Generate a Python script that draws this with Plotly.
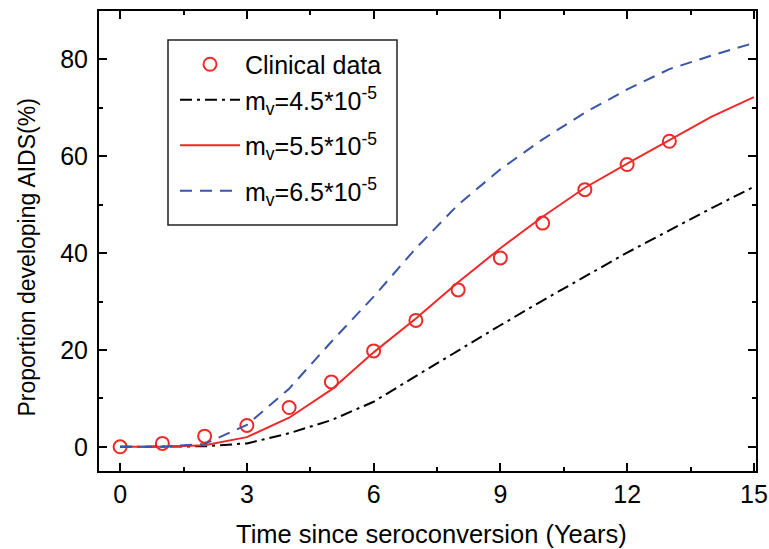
import plotly.graph_objects as go

years = list(range(0, 16))
clinical_x = list(range(0, 14))
clinical_y = [0, 0.7, 2.2, 4.4, 8.1, 13.4, 19.8, 26.1, 32.4, 39.0, 46.2, 53.1, 58.3, 63.1]
mv45 = [0, 0, 0.1, 0.7, 2.8, 5.5, 9.3, 14.6, 19.9, 25.1, 30.2, 35.2, 40.1, 44.7, 49.3, 53.7]
mv55 = [0, 0, 0.3, 2.0, 6.0, 11.8, 19.5, 26.5, 34.0, 41.0, 47.5, 53.5, 58.5, 63.3, 68.2, 72.2]
mv65 = [0, 0, 0.6, 4.5, 12.0, 21.7, 31.0, 41.0, 50.0, 57.3, 63.5, 69.0, 73.8, 78.0, 80.8, 83.4]
x_title = "Time since seroconversion (Years)"
y_title = "Proportion developing AIDS(%)"

RED = "#ee2a2a"
BLUE = "#3a56a8"
FONT = "Liberation Sans, Arial, sans-serif"

fig = go.Figure()
fig.add_trace(go.Scatter(x=clinical_x, y=clinical_y, mode="markers", name="Clinical data", legendgroup="a",
                         marker=dict(symbol="circle-open", size=13, color=RED, line=dict(width=2, color=RED))))
fig.add_trace(go.Scatter(x=years, y=mv45, mode="lines", name="m<sub>v</sub>=4.5*10<sup>-5</sup>", legendgroup="a",
                         line=dict(color="black", width=2, dash="12px,5px,3px,5px")))
fig.add_trace(go.Scatter(x=years, y=mv55, mode="lines", name="m<sub>v</sub>=5.5*10<sup>-5</sup>", legendgroup="c",
                         line=dict(color=RED, width=2)))
fig.add_trace(go.Scatter(x=years, y=mv65, mode="lines", name="m<sub>v</sub>=6.5*10<sup>-5</sup>", legendgroup="d",
                         line=dict(color=BLUE, width=2, dash="12px,8px")))

axis_common = dict(showline=True, linecolor="black", linewidth=2, mirror="ticks",
                   ticks="inside", ticklen=8, tickwidth=1.5, tickcolor="black",
                   showgrid=False, zeroline=False, automargin=False,
                   tickfont=dict(family=FONT, size=25, color="black"))

fig.update_xaxes(range=[-0.5, 15.05], tick0=0, dtick=3,
                 minor=dict(ticks="inside", ticklen=4, tickwidth=1.5, tickcolor="black", dtick=1.5, tick0=0),
                 ticklabelstandoff=0,
                 **axis_common)
fig.update_yaxes(range=[-5, 90], tick0=0, dtick=20,
                 minor=dict(ticks="inside", ticklen=4, tickwidth=1.5, tickcolor="black", dtick=10, tick0=0),
                 ticklabelstandoff=4,
                 **axis_common)

# pixel frame of the plot area, used to convert pixel positions to paper coords
PL, PR, PT, PB = 99, 756, 11, 471
def px(x):
    return (x - PL) / (PR - PL)
def py(y):
    return (PB - y) / (PB - PT)

fig.add_annotation(text=x_title, xref="paper", yref="paper",
                   x=px((235 + 627) / 2), y=py(534),
                   xanchor="center", yanchor="middle", showarrow=False,
                   font=dict(family=FONT, size=25.5, color="black"))
fig.add_annotation(text=y_title, xref="paper", yref="paper", textangle=-90,
                   x=px(26), y=py(257.5),
                   xanchor="center", yanchor="middle", showarrow=False,
                   font=dict(family=FONT, size=23, color="black"))

# legend frame
fig.add_shape(type="rect", xref="paper", yref="paper",
              x0=px(168), x1=px(397), y0=py(225), y1=py(40),
              line=dict(color="#222222", width=1.5), fillcolor="white", layer="below")

fig.update_layout(
    width=769, height=549,
    margin=dict(l=99, r=13, t=11, b=78),
    plot_bgcolor="white", paper_bgcolor="white",
    legend=dict(x=px(175), y=py(41.5), xanchor="left", yanchor="top",
                borderwidth=0, bgcolor="rgba(0,0,0,0)",
                font=dict(family=FONT, size=25, color="black"),
                itemwidth=60, tracegroupgap=10),
    showlegend=True,
)

fig.write_html("out.html", config={"displayModeBar": False},
               post_script="document.body.style.margin='0';document.body.style.overflow='hidden';")
